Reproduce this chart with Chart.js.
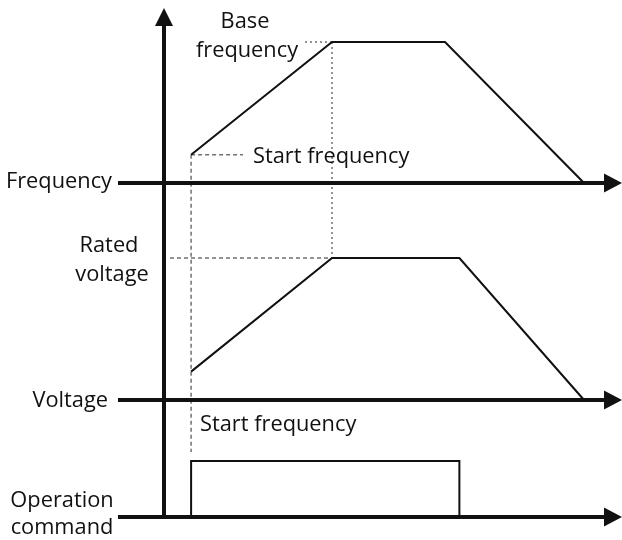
<!DOCTYPE html>
<html>
<head>
<meta charset="utf-8">
<script src="https://cdn.jsdelivr.net/npm/chart.js@4/dist/chart.umd.min.js"></script>
<style>
html, body { margin: 0; padding: 0; background: #fff; }
#wrap { width: 622px; height: 540px; }
</style>
</head>
<body>
<div id="wrap"><canvas id="diagram" width="622" height="540"></canvas></div>
<script>
// --- data: corner times (s) and levels of each trace ---
const freqTime = [1, 6.2, 10.37, 15.5];
const freqHz   = [12, 60, 60, 0];
const voltTime = [1, 6.2, 10.9, 15.5];
const voltPct  = [20, 100, 100, 0];
const cmdTime  = [1, 1, 10.9, 10.9];
const cmdOn    = [0, 1, 1, 0];

const startTime = 1;     // start frequency reached
const baseTime  = 6.2;   // base frequency reached
const startHz   = 12;
const baseHz    = 60;
const ratedPct  = 100;

// --- layout (pixels) ---
const W = 622, H = 540;
const originX = 164, secPx = 27.1;
const band = (basePx, pxPerUnit) => ({ min: (basePx - H) / pxPerUnit, max: basePx / pxPerUnit });

const FONT = '21.8px "Open Sans"';
const INK = "#111";

function seg(ctx, x1, y1, x2, y2) {
  ctx.beginPath();
  ctx.moveTo(x1, y1);
  ctx.lineTo(x2, y2);
  ctx.stroke();
}

const decor = {
  id: "decor",
  beforeDatasetsDraw(chart) {
    const { ctx, scales } = chart;
    const px = t => scales.x.getPixelForValue(t);
    const fy = v => scales.yF.getPixelForValue(v);
    const vy = v => scales.yV.getPixelForValue(v);
    ctx.save();
    ctx.strokeStyle = "#707070";
    ctx.lineWidth = 1.5;
    // dashed guides from start frequency / rated voltage
    ctx.setLineDash([4, 3]);
    seg(ctx, px(startTime), fy(startHz), px(startTime), 452);
    seg(ctx, px(startTime), fy(startHz), 243, fy(startHz));
    seg(ctx, 170, vy(ratedPct), px(baseTime), vy(ratedPct));
    // dotted guides from base frequency
    ctx.setLineDash([2, 3]);
    seg(ctx, 305, fy(baseHz), px(baseTime), fy(baseHz));
    seg(ctx, px(baseTime), fy(baseHz), px(baseTime), vy(ratedPct));
    ctx.restore();
  },
  afterDatasetsDraw(chart) {
    const { ctx, scales } = chart;
    const x0 = scales.x.getPixelForValue(0);
    const baselines = [scales.yF, scales.yV, scales.yC].map(s => s.getPixelForValue(0));
    ctx.save();
    ctx.strokeStyle = INK;
    ctx.fillStyle = INK;
    ctx.lineWidth = 4;
    // vertical axis with arrow
    seg(ctx, x0, baselines[2] + 2, x0, 24);
    ctx.beginPath();
    ctx.moveTo(x0, 8);
    ctx.lineTo(x0 - 9, 26);
    ctx.lineTo(x0 + 9, 26);
    ctx.closePath();
    ctx.fill();
    // time axes with arrows
    baselines.forEach(y => {
      seg(ctx, 118, y, 606, y);
      ctx.beginPath();
      ctx.moveTo(622, y);
      ctx.lineTo(604, y - 9.5);
      ctx.lineTo(604, y + 9.5);
      ctx.closePath();
      ctx.fill();
    });
    // labels
    ctx.font = FONT;
    ctx.textBaseline = "alphabetic";
    const text = (s, x, y, align) => { ctx.textAlign = align; ctx.fillText(s, x, y); };
    text("Base", 245, 28, "center");
    text("frequency", 247, 57, "center");
    text("Start frequency", 253, 163, "left");
    text("Frequency", 112, baselines[0] + 5, "right");
    text("Rated", 109, 252, "center");
    text("voltage", 112, 281, "center");
    text("Voltage", 108, baselines[1] + 7, "right");
    text("Start frequency", 200, 431, "left");
    text("Operation", 62, 507, "center");
    text("command", 62, 534, "center");
    ctx.restore();
  }
};

const trace = (xs, ys, axis) => ({
  data: xs.map((t, i) => ({ x: t, y: ys[i] })),
  yAxisID: axis,
  borderColor: INK,
  borderWidth: 2,
  pointRadius: 0,
  tension: 0,
  fill: false
});

new Chart(document.getElementById("diagram"), {
  type: "line",
  data: {
    datasets: [
      trace(freqTime, freqHz, "yF"),
      trace(voltTime, voltPct, "yV"),
      trace(cmdTime, cmdOn, "yC")
    ]
  },
  options: {
    responsive: false,
    animation: false,
    layout: { padding: 0 },
    plugins: { legend: { display: false }, tooltip: { enabled: false } },
    scales: {
      x:  { type: "linear", display: false, min: -originX / secPx, max: (W - originX) / secPx },
      yF: { type: "linear", display: false, ...band(183, 141 / 60) },
      yV: { type: "linear", display: false, ...band(400, 142 / 100) },
      yC: { type: "linear", display: false, ...band(517, 56) }
    }
  },
  plugins: [decor]
});
</script>
</body>
</html>
